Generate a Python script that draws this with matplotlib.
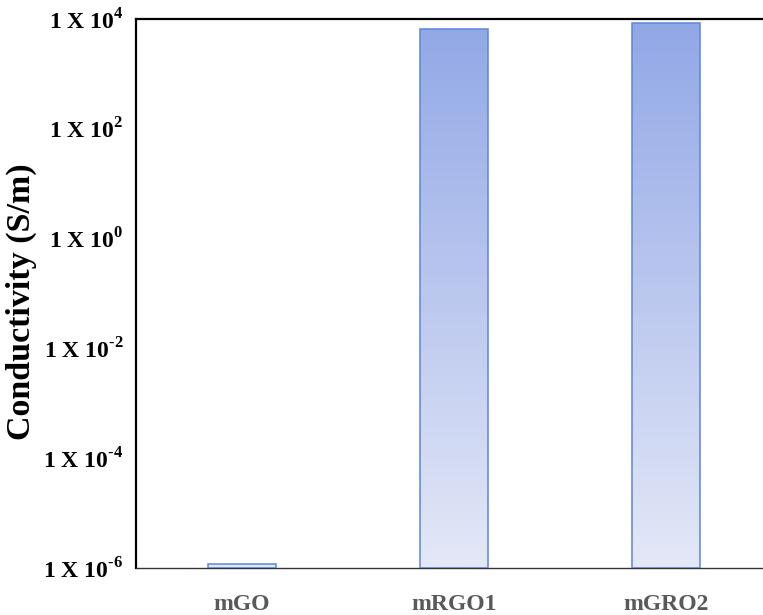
import matplotlib
matplotlib.use('Agg')
from matplotlib import pyplot as plt
import numpy as np

# data
categories = ['mGO', 'mRGO1', 'mGRO2']
conductivity = [1.2e-6, 6.6e3, 8.5e3]
tick_exponents = [-6, -4, -2, 0, 2, 4]

plt.rcParams['font.family'] = ['Liberation Serif', 'DejaVu Serif']
plt.rcParams['font.weight'] = 'bold'
plt.rcParams['mathtext.fontset'] = 'custom'
plt.rcParams['mathtext.rm'] = 'Liberation Serif:bold'
plt.rcParams['mathtext.bf'] = 'Liberation Serif:bold'

fig = plt.figure(figsize=(7.63, 6.15), dpi=100)
ax = fig.add_axes([0.178, 0.0764, 0.834, 0.8928])
ax.set_yscale('log')

ymin, ymax = 1e-6, 1e4
x = np.arange(len(categories))
vals = np.array(conductivity)

bars = ax.bar(x, vals - ymin, bottom=ymin, width=0.32,
              facecolor='none', edgecolor='#5a86dc', linewidth=1.1, zorder=3)

# vertical gradient over the axes height, shown only inside the bars
top_c = np.array([145, 167, 230]) / 255
bot_c = np.array([228, 232, 247]) / 255
t = np.linspace(0, 1, 256)[:, None]
grad = (top_c * (1 - t) + bot_c * t)[:, None, :]
for b in bars:
    im = ax.imshow(grad, extent=[0, 1, 0, 1], transform=ax.transAxes,
                   aspect='auto', origin='upper', zorder=2, interpolation='bilinear')
    im.set_clip_path(b)

ax.set_xlim(-0.5, 2.5)
ax.set_ylim(ymin, ymax)

ax.set_yticks([10.0 ** e for e in tick_exponents])
ax.set_yticklabels([r'1 X 10$^{\mathbf{%s}}$' % str(e).replace('-', '\u2010')
                    for e in tick_exponents])
ax.yaxis.set_minor_locator(matplotlib.ticker.NullLocator())
ax.tick_params(axis='y', length=0, pad=9, labelsize=17)
ax.set_xticks(x)
ax.set_xticklabels(categories, color='#595959', fontsize=17)
ax.tick_params(axis='x', length=0, pad=19)

ax.set_ylabel('Conductivity (S/m)', fontsize=24.5, fontweight='bold')
ax.yaxis.set_label_coords(-0.156, 0.485)

ax.spines['right'].set_visible(False)
ax.spines['left'].set_linewidth(1.6)
ax.spines['top'].set_linewidth(1.6)
ax.spines['bottom'].set_linewidth(1.0)
ax.spines['bottom'].set_color('#333333')

fig.savefig('out.png', dpi=100)
